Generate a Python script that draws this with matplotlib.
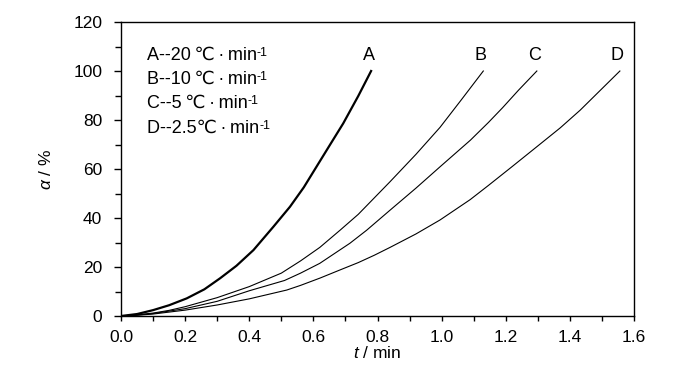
import numpy as np
import matplotlib
matplotlib.use("Agg")
import matplotlib.pyplot as plt
from matplotlib.ticker import MultipleLocator

plt.rcParams['font.family'] = ['Liberation Sans', 'DejaVu Sans']
plt.rcParams['mathtext.fontset'] = 'custom'
plt.rcParams['mathtext.rm'] = 'Liberation Sans'
plt.rcParams['mathtext.it'] = 'Liberation Sans:italic'

# conversion curves (t in min, alpha in %)
t_a = [0.0, 0.05, 0.10, 0.15, 0.205, 0.26, 0.309, 0.36, 0.413, 0.475, 0.527, 0.57, 0.61, 0.65, 0.693, 0.74, 0.78]
alpha_a = [0.0, 0.8, 2.4, 4.4, 7.2, 10.9, 15.4, 20.5, 26.9, 36.4, 44.6, 52.5, 61.0, 69.5, 78.6, 89.8, 100.0]

t_b = [0.0, 0.05, 0.1, 0.15, 0.2, 0.3, 0.4, 0.5, 0.56, 0.62, 0.683, 0.74, 0.839, 0.92, 0.995, 1.06, 1.13]
alpha_b = [0.0, 0.5, 1.2, 2.3, 3.8, 7.5, 12.0, 17.5, 22.5, 28.0, 35.0, 41.5, 54.8, 66.0, 77.0, 88.0, 100.0]

t_c = [0.0, 0.05, 0.1, 0.2, 0.3, 0.4, 0.51, 0.56, 0.62, 0.683, 0.714, 0.766, 0.84, 0.92, 0.995, 1.09, 1.146, 1.19, 1.24, 1.297]
alpha_c = [0.0, 0.4, 1.0, 3.0, 6.0, 10.3, 14.5, 17.5, 21.5, 27.0, 29.7, 35.0, 43.3, 52.2, 60.9, 71.8, 79.0, 85.0, 92.2, 100.0]

t_d = [0.0, 0.05, 0.1, 0.2, 0.3, 0.4, 0.517, 0.56, 0.621, 0.683, 0.74, 0.79, 0.839, 0.92, 0.995, 1.089, 1.146, 1.22, 1.297, 1.37, 1.432, 1.556]
alpha_d = [0.0, 0.3, 0.8, 2.4, 4.5, 7.0, 10.6, 12.5, 15.5, 18.8, 21.8, 24.8, 28.0, 33.5, 39.2, 47.5, 53.3, 61.0, 69.1, 76.8, 84.0, 100.0]

curve_labels = ['A', 'B', 'C', 'D']
legend_lines = ['A--20\u2009℃\u2009·\u2009min', 'B--10\u2009℃\u2009·\u2009min',
                'C--5\u2009℃\u2009·\u2009min', 'D--2.5℃\u2009·\u2009min']


def main() -> None:
    fig = plt.figure(figsize=(7.0, 3.73), dpi=100)
    ax = fig.add_axes([0.1729, 0.1528, 0.7328, 0.7882])

    series = [(t_a, alpha_a, 1.6), (t_b, alpha_b, 0.8), (t_c, alpha_c, 0.8), (t_d, alpha_d, 0.8)]
    for (t, a, lw), name in zip(series, curve_labels):
        ax.plot(t, a, color='black', lw=lw, solid_joinstyle='round')
        ax.text(t[-1] - 0.008, 106.5, name, fontsize=13, ha='center', va='center')

    for i, line in enumerate(legend_lines):
        txt = ax.text(0.081, 106.5 - 9.9 * i, line, fontsize=13, ha='left', va='center')
        ax.annotate('-1', xy=(1.0, 0.98), xycoords=txt, fontsize=9,
                    ha='left', va='top')

    ax.set_xlim(0, 1.6)
    ax.set_ylim(0, 120)
    ax.xaxis.set_major_locator(MultipleLocator(0.2))
    ax.xaxis.set_minor_locator(MultipleLocator(0.1))
    ax.yaxis.set_major_locator(MultipleLocator(20))
    ax.yaxis.set_minor_locator(MultipleLocator(10))
    ax.xaxis.set_major_formatter(plt.FuncFormatter(lambda v, p: f"{v:.1f}"))

    ax.tick_params(which='both', direction='out', top=False, right=False,
                   labelsize=12.5, width=1.0)
    ax.tick_params(axis='x', which='both', length=3.3, pad=7)
    ax.tick_params(axis='y', which='major', length=5, pad=8.5)
    ax.tick_params(axis='y', which='minor', length=4.3)
    for s in ax.spines.values():
        s.set_linewidth(1.0)

    ax.set_xlabel(r'$\mathit{t}$ / min', fontsize=12.5, labelpad=0)
    ax.set_ylabel(r'$\mathit{\alpha}$ / %', fontsize=12.5, labelpad=14)

    fig.savefig('out.png', dpi=100)


if __name__ == '__main__':
    main()
